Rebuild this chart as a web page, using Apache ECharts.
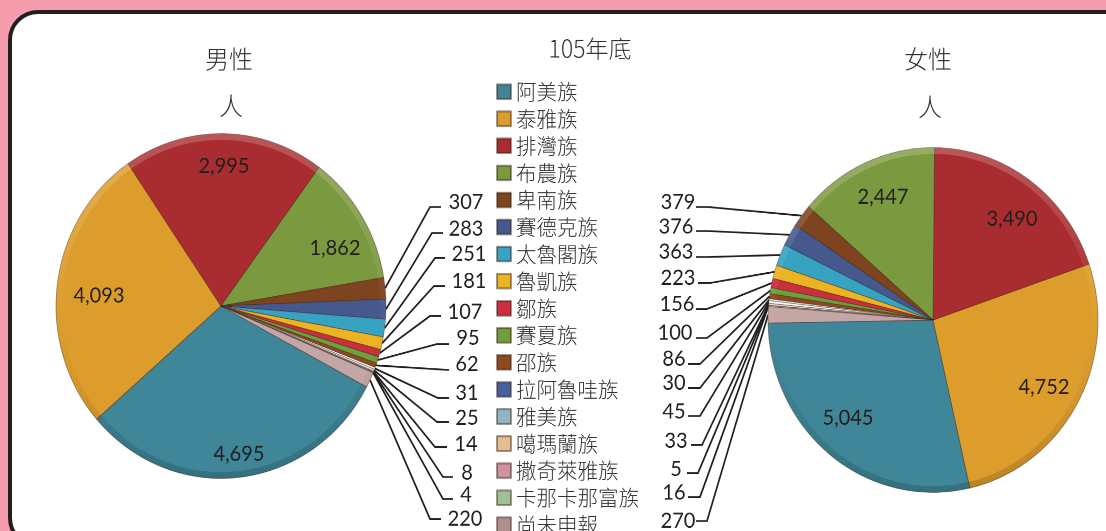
<!DOCTYPE html>
<html>
<head>
<meta charset="utf-8">
<title>105年底</title>
<script src="https://cdn.jsdelivr.net/npm/echarts@6/dist/echarts.min.js"></script>
<style>
html, body { margin: 0; padding: 0; width: 1106px; height: 531px; overflow: hidden; background: #f59cad; }
/* 白色圓角底板 */
.card {
  position: absolute; left: 8px; top: 10px; width: 1200px; height: 530px;
  background: #fff; border: 4px solid #231f20; border-radius: 30px;
}
/* 原圖的圓餅略為縱向拉長 */
#chart {
  position: absolute; left: 0; top: 0; width: 1106px; height: 508px;
  transform-origin: 0 0; transform: scaleY(1.045);
}
</style>
</head>
<body>
<div class="card"></div>
<div id="chart"></div>
<script>
const yScale = 1.045
const y = v => v / yScale

const tribes = ['阿美族', '泰雅族', '排灣族', '布農族', '卑南族', '賽德克族', '太魯閣族', '魯凱族', '鄒族', '賽夏族', '邵族', '拉阿魯哇族', '雅美族', '噶瑪蘭族', '撒奇萊雅族', '卡那卡那富族', '尚未申報']
const maleValues = [4695, 4093, 2995, 1862, 307, 283, 251, 181, 107, 95, 62, 31, 25, 14, 8, 4, 220]
const femaleValues = [5045, 4752, 3490, 2447, 379, 376, 363, 223, 156, 100, 86, 30, 45, 33, 5, 16, 270]
// 圓餅上極小的扇形在原圖幾乎呈白色，圖例則有各自的顏色
const palette = ['#3e8698', '#dd9d2c', '#a92d30', '#7b9a3f', '#7e431f', '#46598f', '#37a3c2', '#ecb323', '#c92f3c', '#6f9f3c', '#8e4a1e', '#ffffff', '#ffffff', '#f5d9cf', '#e3b9bd', '#ffffff', '#c4a6a6']
const legendColors = ['#3e8698', '#dd9d2c', '#a92d30', '#7b9a3f', '#7e431f', '#46598f', '#37a3c2', '#ecb323', '#c92f3c', '#6f9f3c', '#8e4a1e', '#46609b', '#8fb5c5', '#e6bd8f', '#cf939f', '#a3bf98', '#b08f90']

// 標籤文字中心 [x, y]
const maleLabelPos = [[239, 454], [99, 296], [224, 166], [335, 248], [466, 202], [466, 229], [469, 254], [469, 281], [465, 312], [468, 338], [467, 364], [467, 393], [467, 418], [466, 444], [467, 473], [466, 495], [465, 519]]
const femaleLabelPos = [[848, 418], [1044, 387], [1012, 219], [883, 197], [678, 202], [676, 227], [676, 252], [678, 278], [677, 304], [675, 333], [674, 359], [674, 383], [674, 412], [676, 441], [676, 469], [674, 493], [678, 521]]
// 導線水平段 [靠標籤端 x, 轉折 x, y]
const maleStubs = [[441, 430, 207], [443, 432, 233], [445, 435, 258], [445, 434, 286], [441, 430, 316], [449, 437, 344], [449, 449, 370], [449, 438, 398], [449, 437, 422], [447, 435, 447], [453, 443, 477], [453, 443, 499], [441, 430, 519]]
const femaleStubs = [[696, 708, 207], [696, 708, 231], [696, 708, 257], [698, 710, 283], [696, 707, 309], [696, 707, 338], [688, 700, 364], [688, 700, 388], [688, 700, 416], [691, 702, 445], [687, 698, 473], [688, 700, 497], [696, 707, 521]]

const radius = 165
const maleCenter = [221, 306]
const femaleCenter = [933, 320]

const makeData = values => values.map((v, i) => ({
  name: tribes[i],
  value: v,
  itemStyle: { color: palette[i] },
  labelLine: { show: i > 3 }
}))

const makePie = (values, center, startAngle, clockwise, labelPos, stubs) => ({
  type: 'pie',
  center: [center[0], y(center[1])],
  radius: radius,
  startAngle: startAngle,
  clockwise: clockwise,
  minAngle: 0,
  avoidLabelOverlap: false,
  silent: true,
  data: makeData(values),
  itemStyle: { borderColor: 'rgba(50,30,20,0.45)', borderWidth: 0.8 },
  label: {
    show: true,
    position: 'outside',
    formatter: p => p.value.toLocaleString('en-US'),
    fontFamily: 'Lato',
    fontSize: 20,
    color: '#231f20'
  },
  labelLine: { show: true, lineStyle: { color: '#231f20', width: 1.7 } },
  labelLayout: p => {
    const pos = labelPos[p.dataIndex]
    const out = { x: pos[0], y: y(pos[1]), align: 'center', verticalAlign: 'middle' }
    if (p.dataIndex > 3 && p.labelLinePoints) {
      const s = stubs[p.dataIndex - 4]
      out.labelLinePoints = [p.labelLinePoints[0], [s[1], y(s[2])], [s[0], y(s[2])]]
    }
    return out
  },
  z: 2
})

// 外緣的立體光影
const makeRim = (center) => ({
  type: 'pie',
  center: [center[0], y(center[1])],
  radius: [radius - 6, radius],
  silent: true,
  label: { show: false },
  labelLine: { show: false },
  tooltip: { show: false },
  itemStyle: { borderWidth: 0 },
  data: [{
    value: 1,
    name: 'rim',
    itemStyle: {
      color: {
        type: 'linear', x: 0, y: 0, x2: 0, y2: 1,
        colorStops: [
          { offset: 0, color: 'rgba(255,255,255,0.2)' },
          { offset: 0.45, color: 'rgba(255,255,255,0.04)' },
          { offset: 0.7, color: 'rgba(0,0,0,0.03)' },
          { offset: 1, color: 'rgba(0,0,0,0.16)' }
        ]
      }
    }
  }],
  z: 3
})

const makeTitle = (text, x, top, size) => ({
  text: text, left: x, top: y(top), textAlign: 'center', padding: 0,
  textStyle: { fontFamily: 'Noto Sans CJK TC', fontWeight: 300, fontSize: size, color: '#333' }
})

const chart = echarts.init(document.getElementById('chart'), null, { renderer: 'canvas', devicePixelRatio: 2 })
chart.setOption({
  animation: false,
  backgroundColor: 'transparent',
  title: [
    makeTitle('男性', 229, 46.5, 24),
    makeTitle('人', 231, 93, 24),
    makeTitle('105年底', 590, 36.5, 23),
    makeTitle('女性', 928, 46.5, 24),
    makeTitle('人', 930, 94, 24)
  ],
  legend: {
    orient: 'vertical',
    left: 496,
    top: y(81),
    padding: 0,
    height: 480,
    data: tribes.map((name, i) => ({ name: name, itemStyle: { color: legendColors[i] } })),
    selectedMode: false,
    icon: 'rect',
    itemWidth: 14,
    itemHeight: 14,
    itemGap: 5.4,
    textStyle: { fontFamily: 'Noto Sans CJK TC', fontWeight: 300, fontSize: 20.5, lineHeight: 20, color: '#333' }
  },
  series: [
    makePie(maleValues, maleCenter, -28, true, maleLabelPos, maleStubs),
    makePie(femaleValues, femaleCenter, 181, false, femaleLabelPos, femaleStubs),
    makeRim(maleCenter),
    makeRim(femaleCenter)
  ]
})

window.addEventListener('resize', () => chart.resize())
</script>
</body>
</html>
